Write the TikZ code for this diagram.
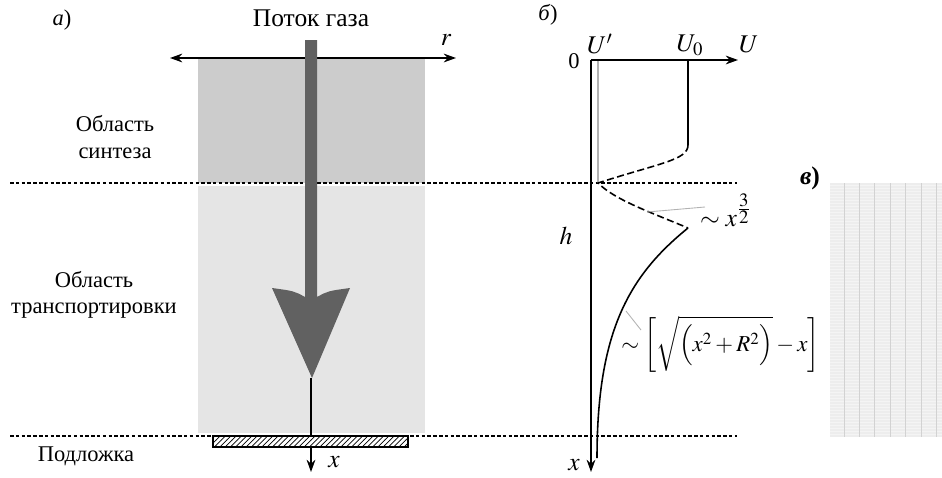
\documentclass[tikz,border=0pt]{standalone}
\usepackage{mathptmx}
\usepackage{fontspec}
\setmainfont{Liberation Serif}
\usetikzlibrary{arrows.meta,patterns}

\begin{document}
\begin{tikzpicture}[x=0.02cm,y=-0.02cm,>=Stealth,
  every node/.style={font=\fontsize{12.8}{15}\selectfont},
  axis/.style={line width=0.8pt,-{Stealth[length=7pt,width=5pt]}},
  border/.style={densely dashed,dash pattern=on 2pt off 1.3pt,line width=0.7pt},
  leader/.style={gray!60,line width=0.5pt},
  profile/.style={line width=0.9pt},
  formula/.style={font=\fontsize{14.5}{17}\selectfont}]
  \useasboundingbox (0,0) rectangle (942,477);

  % panel a
  \node (pa) at (62,20) {\textit{а})};
  \fill[gray!40] (198,58) rectangle (425,183);
  \fill[gray!20] (198,186) rectangle (425,433);
  \draw[border] (10,183) -- (737,183);
  \draw[border] (10,436) -- (737,436);
  \node[font=\fontsize{14.5}{17}\selectfont] (flow) at (311,18) {Поток газа};
  \coordinate (rl) at (170,58);
  \coordinate (rr) at (456,58);
  \draw[line width=0.8pt,{Stealth[length=7pt,width=5pt]}-{Stealth[length=7pt,width=5pt]}] (rl) -- (rr);
  \node[formula] (r) at (446,40) {$r$};
  \fill[black!62] (305,297) -- (305,40) -- (317,40) -- (317,297)
    .. controls (328,291) .. (350,288) -- (312,378) -- (272,288)
    .. controls (294,291) .. (305,297) -- cycle;
  \coordinate (tip) at (311,378);
  \draw[pattern=north east lines,line width=0.7pt] (213,436) rectangle (408,447);
  \coordinate (sub) at (311,436);
  \draw[line width=0.8pt] (tip) -- (sub);
  \coordinate (xa) at (311,447);
  \coordinate (xb) at (311,472);
  \draw[axis] (xa) -- (xb);
  \node[formula] (xl) at (334,462) {$x$};
  \node[align=center] (synth) at (115,137) {Область\\синтеза};
  \node[align=center] (trans) at (94,295) {Область\\транспортировки};
  \node (subst) at (86,456) {Подложка};

  % panel c
  \node[formula] (pc) at (810,178) {\textbf{\textit{в})}};
  \fill[gray!14] (830,183) rectangle (942,437);
  \foreach \yy in {185,188,...,436}
    \draw[white!70!gray!30,line width=0.2pt] (830,\yy) -- (942,\yy);
  \foreach \xx in {0,...,6}
    \draw[gray!35,line width=0.5pt] (844+15.4*\xx,183) -- (844+15.4*\xx,437);

  % panel b
  \node (pb) at (548,15) {\textit{б})};
  \coordinate (o) at (591,60);
  \coordinate (ue) at (738,60);
  \coordinate (xe) at (591,472);
  \draw[axis] (o) -- (ue);
  \draw[axis] (o) -- (xe);
  \node (zero) at (574,61) {0};
  \node[formula] (u) at (749,44) {$U$};
  \node[formula] (u0) at (690,45) {$U_0$};
  \node[formula] (up) at (600,44) {$U'$};
  \node[formula] (h) at (566,236) {$h$};
  \node[formula] (xb2) at (574,465) {$x$};
  \draw[gray!60,line width=0.7pt] (598,61) -- (598,183);
  \draw[profile] (688,61) -- (688,145);
  \draw[profile,dashed,dash pattern=on 4pt off 2pt] (688,145) .. controls (688,160) and (660,163) .. (598,183)
    .. controls (615,200) and (650,212) .. (688,228);
  \draw[profile] (688,228) .. controls (630,275) and (597,330) .. (597,458);
  \draw[leader] (647,212) -- (705,207);
  \node[formula,anchor=base west] (pow) at (694,226) {$\sim x^{\frac{\scriptstyle 3}{\scriptstyle 2}}$};
  \draw[leader] (626,311) -- (641,330);
  \node[font=\fontsize{13}{15}\selectfont,anchor=base west,inner sep=0pt] (sq) at (621,351)
    {$\sim\biggl[\sqrt{\Bigl(x^{2}+R^{2}\Bigr)}-x\biggr]$};
\end{tikzpicture}
\end{document}
